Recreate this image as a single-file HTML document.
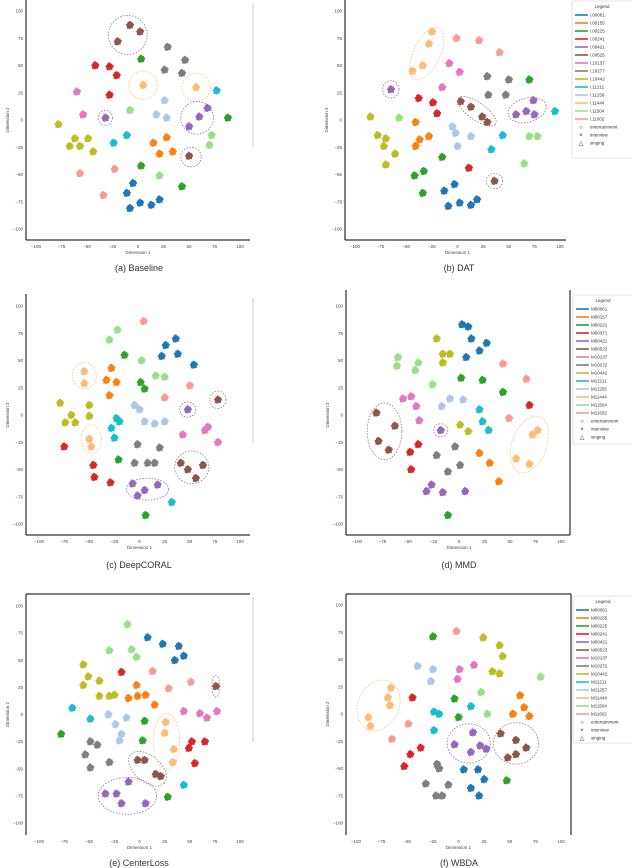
<!DOCTYPE html>
<html><head><meta charset="utf-8"><style>
html,body{margin:0;padding:0;background:#fff;width:632px;height:868px;overflow:hidden}
svg{display:block}
text{font-family:"Liberation Sans",sans-serif}
</style></head><body>
<svg id="s" width="632" height="868" viewBox="0 0 632 868" xmlns="http://www.w3.org/2000/svg"></svg>
<script>
const colors=["#1f77b4","#ff7f0e","#2ca02c","#d62728","#9467bd","#8c564b","#e377c2","#7f7f7f","#bcbd22","#17becf","#aec7e8","#ffbb78","#98df8a","#ff9896"];
const tickValues=[-100,-75,-50,-25,0,25,50,75,100];
const tickLabels=["−100","−75","−50","−25","0","25","50","75","100"];
// cluster data per panel: x, y (data units), color index
const aX=[-8,-20,2,3,29,26,46,43,-42,-28,-21,-28,5,57,77,-60,-54,-8,-32,50,60,68,88,-78,-62,-49,-67,-57,-44,26,18,28,-11,-24,15,28,34,21,72,70,50,3,43,21,-57,-23,-34,-5,-11,2,-8,13,21];
const aY=[87,72,81,56,67,46,55,43,50,49,41,23,32,30,27,26,5,9,2,-6,3,11,2,-4,-17,-17,-24,-24,-29,18,5,2,-14,-21,-21,-16,-29,-31,-14,-23,-33,-42,-61,-51,-49,-45,-69,-58,-67,-76,-81,-78,-73];
const aC=[5,5,5,2,7,7,7,7,3,3,3,3,11,11,9,6,6,12,4,4,4,4,2,8,8,8,8,8,8,10,10,10,9,9,1,1,1,1,12,12,5,2,2,12,13,13,13,0,0,0,0,0,0];
const bX=[-25,-28,-34,-44,-1,21,41,2,-8,-15,29,50,30,47,70,-65,57,67,74,75,95,33,44,-85,-78,-70,-72,-61,-70,-57,70,78,65,-38,-24,-20,3,13,24,29,-41,-37,-28,-41,-5,-2,0,13,-15,-33,-42,-34,11,36,-3,-13,2,-9,13,19];
const bY=[81,70,50,45,75,73,62,44,52,30,40,37,23,23,37,28,5,8,18,5,8,-27,-14,3,-14,-17,-24,-31,-41,2,-15,-15,-40,20,16,6,17,12,3,-2,-2,-18,-15,-24,-6,-12,-24,-15,-34,-47,-51,-67,-44,-56,-59,-65,-76,-79,-78,-73];
const bC=[11,11,11,11,13,13,13,6,6,6,7,7,7,7,2,4,4,4,4,4,9,9,9,8,8,8,8,8,8,12,12,12,12,3,3,3,5,5,5,5,1,1,1,1,10,10,10,10,2,2,2,2,3,5,0,0,0,0,0,0];
const cX=[4,50,25,-22,-30,2,16,25,26,38,22,54,36,-15,1,5,-21,6,-28,-33,-23,-30,-55,-55,-50,-48,-79,-50,-68,-50,-74,-64,78,41,48,63,56,48,-7,5,18,-2,-5,0,5,15,25,-23,-20,-28,-25,32,65,68,43,78,-2,20,-5,8,15,-75,-46,-45,-29];
const cY=[86,27,16,78,69,50,36,35,64,56,54,46,70,55,30,24,-41,-92,43,32,30,18,40,29,-22,-29,11,9,0,-1,-7,-7,14,-44,-50,-46,-58,5,-63,-69,-64,-74,9,5,-6,-8,-6,-3,-6,-12,-21,-80,-14,-11,-18,-25,-27,-30,-44,-44,-44,-29,-46,-57,-62];
const cC=[13,13,13,12,12,12,12,12,0,0,0,0,0,2,2,2,2,2,1,1,1,1,11,11,11,11,8,8,8,8,8,8,5,5,5,5,5,4,4,4,4,4,10,10,10,10,10,9,9,9,9,9,6,6,6,6,7,7,7,7,7,3,3,3,3];
const dX=[3,9,12,20,27,7,-22,-16,-9,-16,1,9,-61,-43,-40,-26,-60,2,23,43,-11,43,66,49,-55,-47,-42,-39,-17,-9,4,20,23,29,69,-40,-48,-47,-81,-63,-79,-69,-18,-27,-16,6,-32,72,77,56,69,-4,-22,-11,1,20,30,39];
const dY=[83,81,70,59,66,53,70,56,56,48,-9,-15,45,41,48,28,53,34,32,21,-92,47,33,-3,15,17,8,-5,8,15,14,5,-6,-14,9,-27,-34,-50,2,-10,-24,-32,-14,-64,-71,-70,-70,-18,-14,-40,-45,-29,-37,-52,-46,-35,-44,-61];
const dC=[0,0,0,0,0,0,8,8,8,8,8,8,12,12,12,12,12,2,2,2,2,13,13,13,6,6,6,6,10,10,10,9,9,9,3,3,3,3,5,5,5,5,4,4,4,4,4,11,11,11,11,7,7,7,7,1,1,1];
const eX=[-12,-30,-8,-3,8,23,39,35,44,-56,-51,-56,-40,-40,-30,-25,-18,52,49,55,65,13,29,51,-11,-2,6,-3,15,76,-2,5,16,21,-67,-49,44,44,60,67,77,-31,-13,-24,-18,-20,26,25,34,33,5,3,-78,28,-49,-54,-49,-30,-42,-11,-34,-23,6,-18];
const eY=[83,59,60,53,71,65,63,50,54,46,35,27,31,17,17,18,39,-25,-31,-45,-25,40,24,30,15,17,18,27,9,26,-42,-42,-55,-57,6,-4,-65,3,1,-3,3,0,-3,-9,-18,-24,-7,-17,-32,-44,-6,-24,-18,-76,-25,-37,-49,-44,-28,-62,-73,-73,-82,-82];
const eC=[12,12,12,12,0,0,0,0,0,8,8,8,8,8,8,8,3,3,3,3,3,13,13,13,1,1,1,1,1,5,5,5,5,5,9,9,9,6,6,6,6,10,10,10,10,10,11,11,11,11,2,2,2,2,7,7,7,7,7,4,4,4,4,4];
const fX=[-25,-4,0,47,-2,-49,-65,24,40,43,33,40,-40,-25,-27,1,-1,15,80,22,28,60,64,53,69,-45,-37,-47,-53,-66,-69,-67,-88,-86,-24,-19,-24,12,14,-4,21,12,27,41,56,66,48,56,-21,-19,-32,-10,-16,-22,5,19,12,25,20];
const fY=[71,14,-3,-61,76,-9,-23,70,63,53,39,37,44,41,30,41,32,45,34,20,0,17,6,0,-2,15,-31,-37,-48,24,15,8,-3,-11,2,0,-15,7,-17,-28,-29,-35,-32,-18,-24,-31,-40,-37,-46,-50,-64,-65,-75,-75,-51,-51,-68,-60,-75];
const fC=[2,2,2,2,13,13,13,8,8,8,8,8,10,10,10,6,6,6,12,12,12,1,1,1,1,3,3,3,3,11,11,11,11,11,9,9,9,9,4,4,4,4,4,5,5,5,5,5,7,7,7,7,7,7,0,0,0,0,0];
// highlight ellipses per panel: cx, cy, rx, ry (data units), rotation, color index
const aE=[[-10,78,19,18,0,7],[5,32,14,13,0,11],[57,30,14,13,0,11],[-32,2,7,7,0,4],[58,2,16,15,-20,4],[52,-34,10,9,0,7]];
const bE=[[-30,61,13,26,25,11],[-65,28,8,8,0,4],[68,9,19,11,-15,4],[19,8,22,8,35,7],[36,-56,8,7,0,7]];
const cE=[[-55,36,12,12,0,11],[-48,-22,10,13,0,11],[78,14,8,8,0,7],[52,-48,17,15,0,7],[48,5,8,7,0,4],[8,-68,21,10,0,4]];
const dE=[[-73,-15,17,26,0,7],[-18,-14,7,6,0,4],[69,-27,17,27,20,11]];
const eE=[[76,26,4,10,0,7],[8,-50,22,12,40,7],[27,-25,13,26,0,11],[-12,-75,29,17,0,4]];
const fE=[[-78,8,20,24,25,11],[10,-27,21,18,0,4],[56,-27,22,19,0,7]];
const legendA=["i.00061","i.00155","i.00225","i.00241","i.00421","i.00525","i.10137","i.10277","i.10442","i.11211","i.11256","i.11444","i.11504","i.11602"];
const legendB=["M00061","M00157","M00221","M00371","M00421","M00523","M10137","M10272","M10442","M11211","M11255","M11444","M11504","M11602"];
const legendC=["M00061","M00155","M00225","M00241","M00421","M00523","M10137","M10272","M10442","M11211","M11257","M11444","M11504","M11602"];
const markerLabels=["entertainment","interview","singing"];

const NS="http://www.w3.org/2000/svg";
const svg=document.getElementById('s');
function el(tag,attrs,parent){const e=document.createElementNS(NS,tag);for(const k in attrs)e.setAttribute(k,attrs[k]);(parent||svg).appendChild(e);return e;}

const panels=[
 {id:'baseline',cap:'(a) Baseline',X:aX,Y:aY,C:aC,E:aE,x0:36,x1:240,yT:11,yB:229,L:26,R:250,T:0,B:240,axes:'lb',stub:[253,3,147],capX:139,capY:271,legend:null},
 {id:'dat',cap:'(b) DAT',X:bX,Y:bY,C:bC,E:bE,x0:355,x1:560,yT:11,yB:229,L:345,R:566,T:0,B:240,axes:'lb',stub:null,capX:459,capY:271,legend:{labels:legendA,x:572,y:1,h:157}},
 {id:'deepcoral',cap:'(c) DeepCORAL',X:cX,Y:cY,C:cC,E:cE,x0:39,x1:240,yT:306,yB:524,L:26,R:250,T:294,B:535,axes:'lb',stub:[253,298,443],capX:139,capY:568,legend:null},
 {id:'mmd',cap:'(d) MMD',X:dX,Y:dY,C:dC,E:dE,x0:357,x1:561,yT:306,yB:524,L:346,R:570,T:290,B:535,axes:'lbr',stub:null,capX:459,capY:568,legend:{labels:legendB,x:573,y:295,h:149}},
 {id:'centerloss',cap:'(e) CenterLoss',X:eX,Y:eY,C:eC,E:eE,x0:39,x1:240,yT:606,yB:823,L:26,R:250,T:594,B:835,axes:'tl',stub:[253,597,742],capX:139,capY:866,legend:null},
 {id:'wbda',cap:'(f) WBDA',X:fX,Y:fY,C:fC,E:fE,x0:356,x1:561,yT:605,yB:823,L:346,R:571,T:594,B:835,axes:'tlr',stub:null,capX:459,capY:866,legend:{labels:legendC,x:573,y:596,h:147}}
];

panels.forEach(p=>{
 const g=el('g',{});
 
 
 const sx=v=>p.x0+(v+100)/200*(p.x1-p.x0);
 const sy=v=>p.yB-(v+100)/200*(p.yB-p.yT);
 const ux=(p.x1-p.x0)/200, uy=(p.yB-p.yT)/200;
 // axes
 if(p.axes.includes('l')){const a=el('line',{x1:p.L,y1:p.T,x2:p.L,y2:p.B,stroke:'#000','stroke-width':1},g);}
 if(p.axes.includes('b')){const a=el('line',{x1:p.L,y1:p.B,x2:p.R,y2:p.B,stroke:'#000','stroke-width':1},g);}
 if(p.axes.includes('t')){const a=el('line',{x1:p.L,y1:p.T,x2:p.R,y2:p.T,stroke:'#000','stroke-width':1},g);}
 if(p.axes.includes('r')){const a=el('line',{x1:p.R,y1:p.T,x2:p.R,y2:p.B,stroke:'#000','stroke-width':1},g);}
 if(p.stub){const a=el('line',{x1:p.stub[0],y1:p.stub[1],x2:p.stub[0],y2:p.stub[2],stroke:'#ccc','stroke-width':1},g);}
 // ticks
 tickValues.forEach((v,i)=>{
  const tx=el('text',{x:sx(v),y:p.B+8,'font-size':4.5,fill:'#444','text-anchor':'middle'},g);
  tx.textContent=tickLabels[i];
  
  
  const ty=el('text',{x:p.L-3,y:sy(v)+1.5,'font-size':4.5,fill:'#444','text-anchor':'end'},g);
  ty.textContent=tickLabels[i];
  
  
 });
 const xl=el('text',{x:(p.x0+p.x1)/2,y:p.B+14,'font-size':4.5,fill:'#444','text-anchor':'middle'},g);
 xl.textContent='Dimension 1';
 
 
 const yl=el('text',{x:0,y:0,'font-size':4.5,fill:'#444','text-anchor':'middle',transform:`translate(${p.L-17},${(p.yT+p.yB)/2}) rotate(-90)`},g);
 yl.textContent='Dimension 2';
 
 
 // clusters
 const n=22, spread=3.2;
 p.X.forEach((cx,i)=>{
  const cg=el('g',{fill:colors[p.C[i]]},g);
  
  
  for(let k=0;k<n;k++){
   const r=spread*Math.sqrt((k+0.5)/n), a=k*2.39996;
   const px=sx(cx+r*Math.cos(a)), py=sy(p.Y[i]+r*Math.sin(a));
   el('rect',{x:px-0.9,y:py-0.9,width:1.8,height:1.8},cg);
  }
 });
 // ellipses
 p.E.forEach(e=>{
  const cx=sx(e[0]),cy=sy(e[1]);
  const h=el('ellipse',{cx:cx,cy:cy,rx:e[2]*ux,ry:e[3]*uy,fill:'none',stroke:colors[e[5]],'stroke-width':0.8,'stroke-dasharray':'1.5,1.5',transform:`rotate(${e[4]},${cx},${cy})`},g);
  
  
 });
 // caption
 const cap=el('text',{x:p.capX,y:p.capY,'font-size':9,fill:'#333','text-anchor':'middle'},g);
 cap.textContent=p.cap;
 
 
 // legend
 if(p.legend){
  const lg=el('g',{},g);
  
  
  el('rect',{x:p.legend.x,y:p.legend.y,width:70,height:p.legend.h,fill:'#fff',stroke:'#ddd','stroke-width':0.8,rx:1.5},lg);
  const t=el('text',{x:p.legend.x+30,y:p.legend.y+7,'font-size':4.5,fill:'#333','text-anchor':'middle'},lg);
  t.textContent='Legend';
  
  
  p.legend.labels.forEach((lab,i)=>{
   const yy=p.legend.y+14+i*8;
   el('line',{x1:p.legend.x+3,y1:yy,x2:p.legend.x+16,y2:yy,stroke:colors[i],'stroke-width':1.6},lg);
   const tt=el('text',{x:p.legend.x+18,y:yy+1.6,'font-size':4.5,fill:'#333'},lg);
   tt.textContent=lab;
   
   
  });
  const mk=['○','×','△'];
  markerLabels.forEach((lab,i)=>{
   const yy=p.legend.y+14+(14+i)*8;
   const m=el('text',{x:p.legend.x+9,y:yy+2,'font-size':6,fill:'#333','text-anchor':'middle'},lg);
   m.textContent=mk[i];
   
   
   const tt=el('text',{x:p.legend.x+18,y:yy+1.6,'font-size':4.5,fill:'#333'},lg);
   tt.textContent=lab;
   
   
  });
 }
});
</script>
</body></html>
